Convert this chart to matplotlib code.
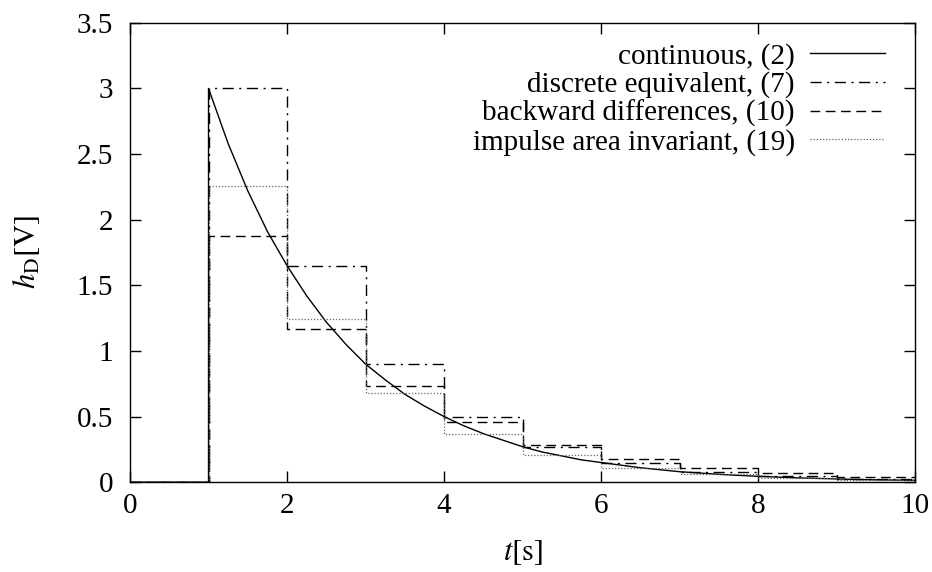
import numpy as np
import matplotlib
matplotlib.use("Agg")
import matplotlib.pyplot as plt

plt.rcParams["font.family"] = ["Liberation Serif", "DejaVu Serif"]
plt.rcParams["mathtext.fontset"] = "stix"

# sample instants (start of each step)
k = [0, 1, 2, 3, 4, 5, 6, 7, 8, 9, 10]
discrete_eq = [0, 3.0, 1.65, 0.90, 0.50, 0.27, 0.15, 0.08, 0.045, 0.025, 0.025]
backward = [0, 1.875, 1.17, 0.73, 0.46, 0.285, 0.18, 0.11, 0.07, 0.04, 0.04]
impulse_area = [0, 2.26, 1.24, 0.68, 0.37, 0.205, 0.11, 0.06, 0.035, 0.02, 0.02]

# continuous response
t_cont = [0, 1, 1, 1.25, 1.5, 1.75, 2, 2.25, 2.5, 2.75, 3, 3.25, 3.5, 3.75, 4,
          4.25, 4.5, 4.75, 5, 5.25, 5.5, 5.75, 6, 6.25, 6.5, 6.75, 7, 7.25,
          7.5, 7.75, 8, 8.25, 8.5, 8.75, 9, 9.25, 9.5, 9.75, 10]
h_cont = [0, 0, 3.0, 2.58, 2.22, 1.91, 1.65, 1.42, 1.22, 1.05, 0.90, 0.78,
          0.67, 0.58, 0.50, 0.43, 0.37, 0.32, 0.27, 0.23, 0.20, 0.17, 0.15,
          0.13, 0.11, 0.095, 0.08, 0.07, 0.06, 0.052, 0.045, 0.039, 0.033,
          0.029, 0.025, 0.021, 0.018, 0.016, 0.014]

fig = plt.figure(figsize=(9.32, 5.72), dpi=100)
ax = fig.add_axes([0.1395, 0.157, 0.8425, 0.803])

ax.plot(t_cont, h_cont, color="black", lw=1.0, label="continuous, (2)")
ax.step(k, discrete_eq, where="post", color="black", lw=1.0,
        linestyle=(0, (8, 4, 1.5, 4)), label="discrete equivalent, (7)")
ax.step(k, backward, where="post", color="black", lw=1.0,
        linestyle=(0, (7, 4)), label="backward differences, (10)")
ax.step(k, impulse_area, where="post", color="#666666", lw=0.9,
        linestyle=(0, (1, 1.5)), label="impulse area invariant, (19)")

ax.set_xlim(0, 10)
ax.set_ylim(0, 3.5)
ax.set_xticks([0, 2, 4, 6, 8, 10])
ax.set_yticks([0, 0.5, 1, 1.5, 2, 2.5, 3, 3.5])
ax.set_yticklabels(["0", "0.5", "1", "1.5", "2", "2.5", "3", "3.5"])
ax.tick_params(direction="in", length=8, width=1, top=True, right=True,
               labelsize=21)
ax.tick_params(axis="x", pad=8)
ax.tick_params(axis="y", pad=12)
for s in ax.spines.values():
    s.set_linewidth(1.0)

ax.set_xlabel(r"$t[\mathrm{s}]$", fontsize=22, va="center")
ax.xaxis.set_label_coords(0.5, -0.153)
ax.set_ylabel(r"$h_{\mathrm{D}}[\mathrm{V}]$", fontsize=22, va="center")
ax.yaxis.set_label_coords(-0.131, 0.5)

ax.legend(loc="upper right", frameon=False, markerfirst=False, fontsize=21,
          handlelength=2.6, labelspacing=0.06, handletextpad=0.5,
          borderaxespad=0, borderpad=0, bbox_to_anchor=(0.962, 0.957))

fig.savefig("out.png", dpi=100)
